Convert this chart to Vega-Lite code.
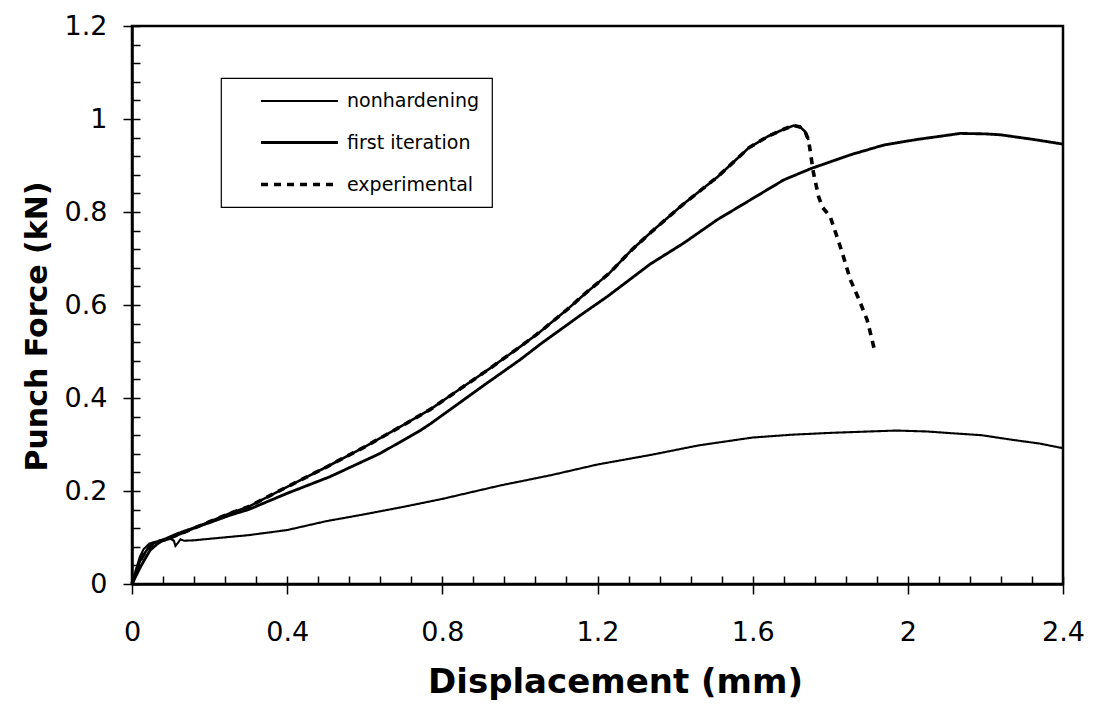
{
  "$schema": "https://vega.github.io/schema/vega-lite/v6.json",
  "width": 931,
  "height": 558,
  "autosize": {"type": "none"},
  "padding": {"left": 132, "top": 26, "right": 30, "bottom": 125},
  "background": "white",
  "config": {
    "view": {"stroke": "black", "strokeWidth": 2.5},
    "axis": {
      "labelFont": "DejaVu Sans", "labelFontSize": 27, "labelColor": "black",
      "titleFont": "DejaVu Sans", "titleFontWeight": "bold", "titleColor": "black",
      "domainColor": "black", "domainWidth": 2.5, "tickColor": "black", "tickWidth": 1.5, "grid": false
    },
    "legend": {
      "orient": "none", "legendX": 89, "legendY": 52,
      "strokeColor": "black", "strokeWidth": 1.2, "fillColor": "white",
      "padding": 12,
      "labelFont": "DejaVu Sans", "labelFontSize": 19, "labelColor": "black",
      "labelOffset": 36, "symbolOffset": 55, "rowPadding": 20
    }
  },
  "data": {"values": [
    {"s": "nonhardening", "seg": "n", "x": 0, "y": 0},
    {"s": "nonhardening", "seg": "n", "x": 0.01, "y": 0.03},
    {"s": "nonhardening", "seg": "n", "x": 0.02, "y": 0.058},
    {"s": "nonhardening", "seg": "n", "x": 0.03, "y": 0.075},
    {"s": "nonhardening", "seg": "n", "x": 0.045, "y": 0.087},
    {"s": "nonhardening", "seg": "n", "x": 0.06, "y": 0.091},
    {"s": "nonhardening", "seg": "n", "x": 0.08, "y": 0.093},
    {"s": "nonhardening", "seg": "n", "x": 0.1, "y": 0.097},
    {"s": "nonhardening", "seg": "n", "x": 0.108, "y": 0.093},
    {"s": "nonhardening", "seg": "n", "x": 0.112, "y": 0.082},
    {"s": "nonhardening", "seg": "n", "x": 0.118, "y": 0.088},
    {"s": "nonhardening", "seg": "n", "x": 0.125, "y": 0.096},
    {"s": "nonhardening", "seg": "n", "x": 0.135, "y": 0.093},
    {"s": "nonhardening", "seg": "n", "x": 0.16, "y": 0.094},
    {"s": "nonhardening", "seg": "n", "x": 0.21, "y": 0.098},
    {"s": "nonhardening", "seg": "n", "x": 0.3, "y": 0.105},
    {"s": "nonhardening", "seg": "n", "x": 0.4, "y": 0.116},
    {"s": "nonhardening", "seg": "n", "x": 0.5, "y": 0.135},
    {"s": "nonhardening", "seg": "n", "x": 0.6, "y": 0.15},
    {"s": "nonhardening", "seg": "n", "x": 0.7, "y": 0.166},
    {"s": "nonhardening", "seg": "n", "x": 0.8, "y": 0.183},
    {"s": "nonhardening", "seg": "n", "x": 0.95, "y": 0.212},
    {"s": "nonhardening", "seg": "n", "x": 1.08, "y": 0.234},
    {"s": "nonhardening", "seg": "n", "x": 1.2, "y": 0.257},
    {"s": "nonhardening", "seg": "n", "x": 1.34, "y": 0.278},
    {"s": "nonhardening", "seg": "n", "x": 1.46, "y": 0.298},
    {"s": "nonhardening", "seg": "n", "x": 1.6, "y": 0.315},
    {"s": "nonhardening", "seg": "n", "x": 1.7, "y": 0.321},
    {"s": "nonhardening", "seg": "n", "x": 1.8, "y": 0.325},
    {"s": "nonhardening", "seg": "n", "x": 1.9, "y": 0.328},
    {"s": "nonhardening", "seg": "n", "x": 1.97, "y": 0.33},
    {"s": "nonhardening", "seg": "n", "x": 2.05, "y": 0.328},
    {"s": "nonhardening", "seg": "n", "x": 2.1, "y": 0.325},
    {"s": "nonhardening", "seg": "n", "x": 2.19, "y": 0.32},
    {"s": "nonhardening", "seg": "n", "x": 2.27, "y": 0.31},
    {"s": "nonhardening", "seg": "n", "x": 2.34, "y": 0.302},
    {"s": "nonhardening", "seg": "n", "x": 2.4, "y": 0.292},

    {"s": "first iteration", "seg": "f", "x": 0, "y": 0},
    {"s": "first iteration", "seg": "f", "x": 0.01, "y": 0.017},
    {"s": "first iteration", "seg": "f", "x": 0.022, "y": 0.037},
    {"s": "first iteration", "seg": "f", "x": 0.035, "y": 0.056},
    {"s": "first iteration", "seg": "f", "x": 0.047, "y": 0.073},
    {"s": "first iteration", "seg": "f", "x": 0.065, "y": 0.086},
    {"s": "first iteration", "seg": "f", "x": 0.081, "y": 0.095},
    {"s": "first iteration", "seg": "f", "x": 0.1, "y": 0.102},
    {"s": "first iteration", "seg": "f", "x": 0.116, "y": 0.108},
    {"s": "first iteration", "seg": "f", "x": 0.14, "y": 0.115},
    {"s": "first iteration", "seg": "f", "x": 0.168, "y": 0.123},
    {"s": "first iteration", "seg": "f", "x": 0.2, "y": 0.132},
    {"s": "first iteration", "seg": "f", "x": 0.253, "y": 0.148},
    {"s": "first iteration", "seg": "f", "x": 0.3, "y": 0.16},
    {"s": "first iteration", "seg": "f", "x": 0.4, "y": 0.195},
    {"s": "first iteration", "seg": "f", "x": 0.511, "y": 0.231},
    {"s": "first iteration", "seg": "f", "x": 0.64, "y": 0.281},
    {"s": "first iteration", "seg": "f", "x": 0.743, "y": 0.33},
    {"s": "first iteration", "seg": "f", "x": 0.77, "y": 0.345},
    {"s": "first iteration", "seg": "f", "x": 0.85, "y": 0.393},
    {"s": "first iteration", "seg": "f", "x": 0.915, "y": 0.432},
    {"s": "first iteration", "seg": "f", "x": 1.0, "y": 0.482},
    {"s": "first iteration", "seg": "f", "x": 1.053, "y": 0.516},
    {"s": "first iteration", "seg": "f", "x": 1.156, "y": 0.578},
    {"s": "first iteration", "seg": "f", "x": 1.225, "y": 0.618},
    {"s": "first iteration", "seg": "f", "x": 1.336, "y": 0.688},
    {"s": "first iteration", "seg": "f", "x": 1.422, "y": 0.733},
    {"s": "first iteration", "seg": "f", "x": 1.508, "y": 0.783},
    {"s": "first iteration", "seg": "f", "x": 1.594, "y": 0.826},
    {"s": "first iteration", "seg": "f", "x": 1.68, "y": 0.869},
    {"s": "first iteration", "seg": "f", "x": 1.749, "y": 0.893},
    {"s": "first iteration", "seg": "f", "x": 1.852, "y": 0.923},
    {"s": "first iteration", "seg": "f", "x": 1.938, "y": 0.944},
    {"s": "first iteration", "seg": "f", "x": 1.98, "y": 0.95},
    {"s": "first iteration", "seg": "f", "x": 2.024, "y": 0.956},
    {"s": "first iteration", "seg": "f", "x": 2.11, "y": 0.966},
    {"s": "first iteration", "seg": "f", "x": 2.135, "y": 0.969},
    {"s": "first iteration", "seg": "f", "x": 2.2, "y": 0.968},
    {"s": "first iteration", "seg": "f", "x": 2.239, "y": 0.966},
    {"s": "first iteration", "seg": "f", "x": 2.324, "y": 0.956},
    {"s": "first iteration", "seg": "f", "x": 2.4, "y": 0.946},

    {"s": "experimental", "seg": "load", "x": 0, "y": 0},
    {"s": "experimental", "seg": "load", "x": 0.01, "y": 0.025},
    {"s": "experimental", "seg": "load", "x": 0.02, "y": 0.048},
    {"s": "experimental", "seg": "load", "x": 0.03, "y": 0.063},
    {"s": "experimental", "seg": "load", "x": 0.04, "y": 0.075},
    {"s": "experimental", "seg": "load", "x": 0.056, "y": 0.088},
    {"s": "experimental", "seg": "load", "x": 0.07, "y": 0.092},
    {"s": "experimental", "seg": "load", "x": 0.085, "y": 0.095},
    {"s": "experimental", "seg": "load", "x": 0.1, "y": 0.1},
    {"s": "experimental", "seg": "load", "x": 0.116, "y": 0.105},
    {"s": "experimental", "seg": "load", "x": 0.14, "y": 0.113},
    {"s": "experimental", "seg": "load", "x": 0.168, "y": 0.123},
    {"s": "experimental", "seg": "load", "x": 0.2, "y": 0.134},
    {"s": "experimental", "seg": "load", "x": 0.253, "y": 0.152},
    {"s": "experimental", "seg": "load", "x": 0.3, "y": 0.166},
    {"s": "experimental", "seg": "load", "x": 0.4, "y": 0.209},
    {"s": "experimental", "seg": "load", "x": 0.5, "y": 0.251},
    {"s": "experimental", "seg": "load", "x": 0.6, "y": 0.295},
    {"s": "experimental", "seg": "load", "x": 0.7, "y": 0.342},
    {"s": "experimental", "seg": "load", "x": 0.77, "y": 0.376},
    {"s": "experimental", "seg": "load", "x": 0.85, "y": 0.422},
    {"s": "experimental", "seg": "load", "x": 0.92, "y": 0.462},
    {"s": "experimental", "seg": "load", "x": 1.0, "y": 0.51},
    {"s": "experimental", "seg": "load", "x": 1.05, "y": 0.541},
    {"s": "experimental", "seg": "load", "x": 1.12, "y": 0.589},
    {"s": "experimental", "seg": "load", "x": 1.17, "y": 0.626},
    {"s": "experimental", "seg": "load", "x": 1.23, "y": 0.668},
    {"s": "experimental", "seg": "load", "x": 1.29, "y": 0.72},
    {"s": "experimental", "seg": "load", "x": 1.34, "y": 0.758},
    {"s": "experimental", "seg": "load", "x": 1.42, "y": 0.816},
    {"s": "experimental", "seg": "load", "x": 1.51, "y": 0.876},
    {"s": "experimental", "seg": "load", "x": 1.59, "y": 0.938},
    {"s": "experimental", "seg": "load", "x": 1.64, "y": 0.963},
    {"s": "experimental", "seg": "load", "x": 1.68, "y": 0.978},
    {"s": "experimental", "seg": "load", "x": 1.706, "y": 0.986},
    {"s": "experimental", "seg": "load", "x": 1.722, "y": 0.983},
    {"s": "experimental", "seg": "load", "x": 1.735, "y": 0.973},
    {"s": "experimental", "seg": "load", "x": 1.744, "y": 0.955},
    {"s": "experimental", "seg": "unload", "x": 1.757, "y": 0.883},
    {"s": "experimental", "seg": "unload", "x": 1.77, "y": 0.833},
    {"s": "experimental", "seg": "unload", "x": 1.78, "y": 0.81},
    {"s": "experimental", "seg": "unload", "x": 1.79, "y": 0.8},
    {"s": "experimental", "seg": "unload", "x": 1.8, "y": 0.79},
    {"s": "experimental", "seg": "unload", "x": 1.83, "y": 0.715},
    {"s": "experimental", "seg": "unload", "x": 1.852, "y": 0.654},
    {"s": "experimental", "seg": "unload", "x": 1.875, "y": 0.61},
    {"s": "experimental", "seg": "unload", "x": 1.895, "y": 0.568},
    {"s": "experimental", "seg": "unload", "x": 1.905, "y": 0.535},
    {"s": "experimental", "seg": "unload", "x": 1.916, "y": 0.496}
  ]},
  "layer": [
    {
      "mark": {"type": "line", "interpolate": "linear"},
      "encoding": {
        "x": {"field": "x", "type": "quantitative", "scale": {"domain": [0, 2.4], "nice": false, "zero": false},
          "axis": {"orient": "bottom", "values": [0, 0.4, 0.8, 1.2, 1.6, 2, 2.4], "format": "~g", "tickSize": 10, "labelPadding": 25, "title": "Displacement (mm)", "titleFontSize": 34, "titlePadding": 20, "titleX": 483, "labelFlush": false}},
        "y": {"field": "y", "type": "quantitative", "scale": {"domain": [0, 1.2], "nice": false},
          "axis": {"orient": "left", "values": [0, 0.2, 0.4, 0.6, 0.8, 1, 1.2], "format": "~g", "tickSize": 9, "labelPadding": 16, "title": "Punch Force (kN)", "titleFontSize": 30, "titlePadding": 12, "titleY": 300}},
        "color": {"field": "s", "type": "nominal", "scale": {"domain": ["nonhardening", "first iteration", "experimental"], "range": ["black", "black", "black"]},
          "legend": {"title": null, "symbolType": "M-4,0H4", "symbolSize": 370}},
        "strokeDash": {"field": "s", "type": "nominal", "scale": {"domain": ["nonhardening", "first iteration", "experimental"], "range": [[1, 0], [1, 0], [7, 6]]},
          "legend": {"title": null, "symbolType": "M-4,0H4", "symbolSize": 370}},
        "strokeWidth": {"field": "s", "type": "nominal", "scale": {"domain": ["nonhardening", "first iteration", "experimental"], "range": [2.1, 3.6, 2.6]},
          "legend": {"title": null, "symbolType": "M-4,0H4", "symbolSize": 370}},
        "order": {"field": "x", "type": "quantitative"}
      }
    },
    {
      "transform": [{"filter": "datum.seg == 'load'"}],
      "mark": {"type": "line", "color": "black", "strokeWidth": 2.6},
      "encoding": {
        "x": {"field": "x", "type": "quantitative",
          "axis": {"orient": "bottom", "values": [0,0.08,0.16,0.24,0.32,0.4,0.48,0.56,0.64,0.72,0.8,0.88,0.96,1.04,1.12,1.2,1.28,1.36,1.44,1.52,1.6,1.68,1.76,1.84,1.92,2,2.08,2.16,2.24,2.32,2.4], "tickSize": -8, "labels": false, "domain": false, "title": null}},
        "y": {"field": "y", "type": "quantitative",
          "axis": {"orient": "left", "values": [0,0.04,0.08,0.12,0.16,0.2,0.24,0.28,0.32,0.36,0.4,0.44,0.48,0.52,0.56,0.6,0.64,0.68,0.72,0.76,0.8,0.84,0.88,0.92,0.96,1,1.04,1.08,1.12,1.16,1.2], "tickSize": -8, "labels": false, "domain": false, "title": null}},
        "order": {"field": "x", "type": "quantitative"}
      }
    }
  ],
  "resolve": {"axis": {"x": "independent", "y": "independent"}}
}
